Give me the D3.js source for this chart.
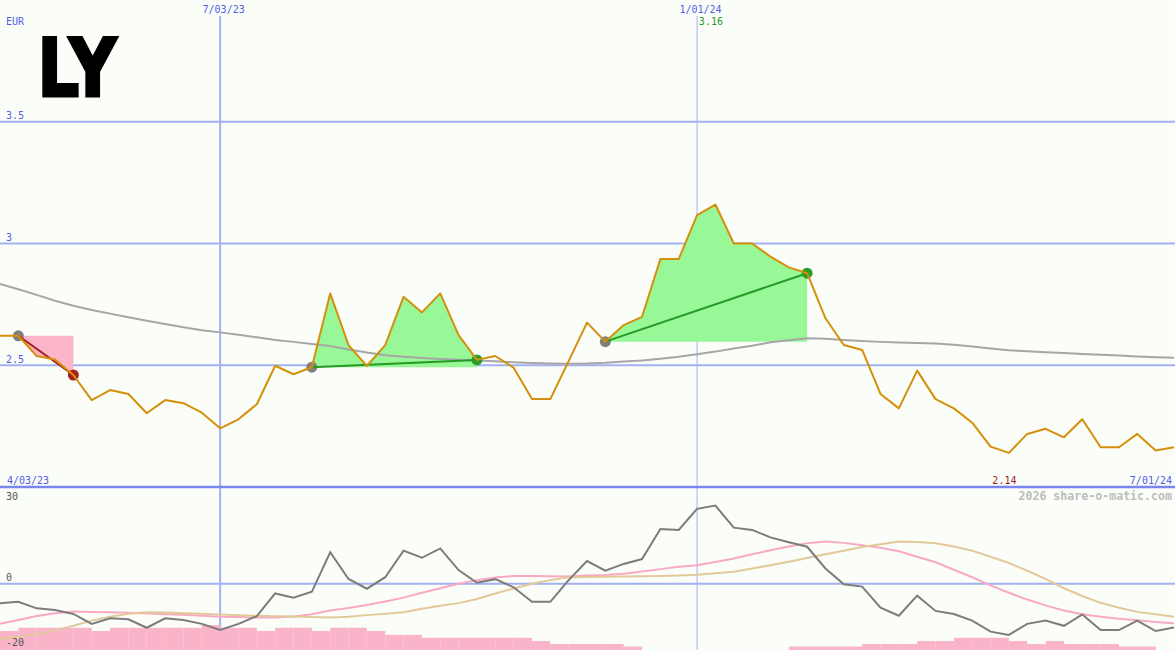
<!DOCTYPE html>
<html><head><meta charset="utf-8">
<script src="https://cdn.jsdelivr.net/npm/d3@7"></script>
<style>html,body{margin:0;padding:0;background:#fbfdf9;} svg{display:block;}</style>
</head><body>
<svg id="chart" width="1175" height="650"></svg>
<script>
// ---------- data ----------
const ticker = "LY";
const currency = "EUR";
const firstWeek = "2023-04-10";
const lastWeek = "2024-07-01";
const closePrices = [
  2.621, 2.621, 2.538, 2.524, 2.460, 2.357, 2.398, 2.382, 2.303, 2.357,
  2.344, 2.305, 2.241, 2.278, 2.340, 2.498, 2.463, 2.492, 2.795, 2.583,
  2.497, 2.583, 2.781, 2.717, 2.795, 2.624, 2.522, 2.538, 2.490, 2.361,
  2.361, 2.517, 2.675, 2.597, 2.665, 2.699, 2.936, 2.936, 3.117, 3.160,
  3.000, 3.000, 2.946, 2.902, 2.878, 2.693, 2.583, 2.563, 2.382, 2.323,
  2.478, 2.361, 2.323, 2.264, 2.166, 2.140, 2.218, 2.239, 2.204, 2.278,
  2.163, 2.163, 2.218, 2.150, 2.163
];
const movingAverage = [
  2.834, 2.812, 2.789, 2.765, 2.744, 2.727, 2.712, 2.697, 2.683, 2.669,
  2.656, 2.644, 2.635, 2.625, 2.615, 2.604, 2.596, 2.587, 2.579, 2.565,
  2.552, 2.541, 2.535, 2.530, 2.526, 2.523, 2.520, 2.516, 2.512, 2.509,
  2.507, 2.506, 2.507, 2.510, 2.515, 2.520, 2.527, 2.535, 2.545, 2.556,
  2.569, 2.580, 2.594, 2.603, 2.611, 2.609, 2.604, 2.600, 2.596, 2.593,
  2.591, 2.589, 2.584, 2.577, 2.569, 2.562, 2.557, 2.553, 2.550, 2.546,
  2.543, 2.540, 2.536, 2.533, 2.531
];
const momentum = [
  -6.05, -5.56, -7.6, -8.1, -9.35, -12.4, -10.7, -11.0, -13.6, -10.7,
  -11.2, -12.4, -14.3, -12.4, -10.0, -3.0, -4.3, -2.5, 9.7, 1.45,
  -1.55, 2.0, 10.2, 8.0, 10.9, 4.2, 0.3, 1.4, -1.1, -5.6,
  -5.6, 1.1, 7.0, 4.0, 6.1, 7.6, 16.9, 16.6, 23.1, 24.1,
  17.3, 16.6, 14.3, 12.8, 11.4, 4.7, -0.2, -0.9, -7.4, -9.9,
  -3.7, -8.4, -9.35, -11.4, -14.8, -15.8, -12.4, -11.4, -13.0, -9.5,
  -14.3, -14.3, -11.4, -14.6, -13.5
];
const signalPink = [
  -12.4, -11.2, -10.0, -9.1, -8.6, -8.7, -8.8, -9.0, -9.2, -9.4,
  -9.6, -9.9, -10.2, -10.3, -10.45, -10.4, -10.1, -9.4, -8.3, -7.5,
  -6.6, -5.5, -4.3, -2.8, -1.4, 0.0, 1.1, 1.9, 2.4, 2.4,
  2.3, 2.2, 2.5, 2.7, 3.1, 3.8, 4.5, 5.2, 5.7, 6.7,
  7.8, 9.1, 10.3, 11.5, 12.5, 13.0, 12.6, 11.9, 11.1, 10.0,
  8.3, 6.6, 4.3, 2.0, -0.5, -2.8, -4.9, -6.7, -8.3, -9.4,
  -10.2, -10.8, -11.3, -11.8, -12.2
];
const signalTan = [
  -17.1, -16.4, -15.6, -14.4, -13.0, -11.4, -10.2, -9.3, -8.8, -8.9,
  -9.1, -9.3, -9.5, -9.75, -9.9, -10.05, -10.15, -10.3, -10.45, -10.2,
  -9.7, -9.3, -8.8, -7.7, -6.8, -6.0, -4.7, -3.0, -1.5, 0.0,
  1.1, 2.0, 2.1, 2.15, 2.2, 2.3, 2.4, 2.5, 2.8, 3.2,
  3.7, 4.7, 5.7, 6.8, 7.9, 9.1, 10.2, 11.3, 12.2, 13.0,
  12.9, 12.5, 11.5, 10.2, 8.3, 6.4, 4.0, 1.5, -1.4, -3.8,
  -5.9, -7.4, -8.7, -9.4, -10.2
];
const histogram = [
  -14.6, -13.6, -13.6, -13.6, -13.6, -14.6, -13.6, -13.6, -13.6, -13.6,
  -13.6, -12.75, -13.6, -13.6, -14.6, -13.6, -13.6, -14.6, -13.6, -13.6,
  -14.6, -15.8, -15.8, -16.7, -16.7, -16.7, -16.7, -16.7, -16.7, -17.7,
  -18.6, -18.6, -18.6, -18.6, -19.4, null, null, null, null, null,
  null, null, null, -19.4, -19.4, -19.4, -19.4, -18.6, -18.6, -18.6,
  -17.7, -17.7, -16.7, -16.7, -16.7, -17.7, -18.6, -17.7, -18.6, -18.6,
  -18.6, -19.4, -19.4, null, null
];
const trades = [
  {open: "2023-04-17", close: "2023-05-08"},
  {open: "2023-08-07", close: "2023-10-09"},
  {open: "2023-11-27", close: "2024-02-12"}
];
const priceTicks = [3.5, 3, 2.5];
const lowerTicks = [30, 0, -20];
const dateTicks = ["2023-07-03", "2024-01-01"];
const dateTickLabels = ["7/03/23", "1/01/24"];
const rangeStartLabel = "4/03/23";
const rangeEndLabel = "7/01/24";
const copyright = "2026 share-o-matic.com";

// ---------- layout ----------
const W = 1175, H = 650;
const mainTop = 0, mainBottom = 487;
const font = "'DejaVu Sans Mono', monospace";
const C = {
  bg: "#fbfdf9", grid: "#a3b1f3", sep: "#7886ee", text: "#4f5fe6",
  price: "#d4900a", ma: "#a6a6a6", gain: "#98f898", loss: "#fbb4c8",
  gainLine: "#259a25", lossLine: "#a81c1c", gainDot: "#279e27", lossDot: "#a82020",
  openDot: "#808080", mom: "#7c7c7c", pink: "#f9a9c4", tan: "#e2c99a", bars: "#f9b4c9",
  hi: "#1f9a1f", lo: "#a01c1c", lowerText: "#555555", copy: "#bdbdbd"
};

const parse = d3.utcParse("%Y-%m-%d");
const weeks = d3.utcMonday.range(parse(firstWeek), d3.utcDay.offset(parse(lastWeek), 1));

const x = d3.scaleUtc().domain([weeks[0], weeks[weeks.length - 1]]).range([0, 1174]);
const y = d3.scaleLinear().domain([2, 4]).range([mainBottom, mainTop]);
const yL = d3.scaleLinear().domain([-20, 30]).range([648.5, 486.5]);

const svg = d3.select("#chart");
svg.append("rect").attr("width", W).attr("height", H).attr("fill", C.bg);

// horizontal grid (main)
svg.append("g").selectAll("line").data(priceTicks).join("line")
  .attr("x1", 0).attr("x2", W)
  .attr("y1", d => y(d)).attr("y2", d => y(d))
  .attr("stroke", C.grid).attr("stroke-width", 2);
// lower zero grid
svg.append("line").attr("x1", 0).attr("x2", W)
  .attr("y1", yL(0)).attr("y2", yL(0))
  .attr("stroke", C.grid).attr("stroke-width", 2);
// vertical grid
svg.append("g").selectAll("line").data(dateTicks).join("line")
  .attr("x1", d => x(parse(d))).attr("x2", d => x(parse(d)))
  .attr("y1", 16).attr("y2", H)
  .attr("stroke", C.grid).attr("stroke-width", (d, i) => i === 0 ? 2 : 1);

// trade fills
const idx = s => weeks.findIndex(w => +w === +parse(s));
trades.forEach(t => {
  const a = idx(t.open), b = idx(t.close);
  const base = closePrices[a];
  const gain = closePrices[b] >= base;
  const pts = d3.range(a, b + 1);
  const area = d3.area()
    .x(i => x(weeks[i]))
    .y0(y(base))
    .y1(i => y(gain ? Math.max(closePrices[i], base) : Math.min(closePrices[i], base)));
  svg.append("path").attr("d", area(pts)).attr("fill", gain ? C.gain : C.loss);
  t._a = a; t._b = b; t._gain = gain;
});

// moving average
const lineMain = d3.line().x((d, i) => x(weeks[i])).y(d => y(d));
svg.append("path").attr("d", lineMain(movingAverage))
  .attr("fill", "none").attr("stroke", C.ma).attr("stroke-width", 2);

// trade dots + lines
trades.forEach(t => {
  svg.append("circle").attr("cx", x(weeks[t._a])).attr("cy", y(closePrices[t._a]))
    .attr("r", 5.5).attr("fill", C.openDot);
  svg.append("circle").attr("cx", x(weeks[t._b])).attr("cy", y(closePrices[t._b]))
    .attr("r", 5.5).attr("fill", t._gain ? C.gainDot : C.lossDot);
  svg.append("line")
    .attr("x1", x(weeks[t._a])).attr("y1", y(closePrices[t._a]))
    .attr("x2", x(weeks[t._b])).attr("y2", y(closePrices[t._b]))
    .attr("stroke", t._gain ? C.gainLine : C.lossLine).attr("stroke-width", 2);
});

// price line
svg.append("path").attr("d", lineMain(closePrices))
  .attr("fill", "none").attr("stroke", C.price).attr("stroke-width", 2)
  .attr("stroke-linejoin", "round");

// lower panel bars
svg.append("g").selectAll("rect")
  .data(histogram.map((v, i) => ({v, i})).filter(d => d.v !== null && d.i < weeks.length - 1))
  .join("rect")
  .attr("x", d => x(weeks[d.i]))
  .attr("width", d => x(weeks[d.i + 1]) - x(weeks[d.i]))
  .attr("y", d => yL(d.v))
  .attr("height", d => H - yL(d.v))
  .attr("fill", C.bars);

const lineLow = d3.line().x((d, i) => x(weeks[i])).y(d => yL(d));
[[signalPink, C.pink], [signalTan, C.tan], [momentum, C.mom]].forEach(([s, c]) => {
  svg.append("path").attr("d", lineLow(s)).attr("fill", "none")
    .attr("stroke", c).attr("stroke-width", 2);
});

// separator
svg.append("line").attr("x1", 0).attr("x2", W).attr("y1", mainBottom).attr("y2", mainBottom)
  .attr("stroke", C.sep).attr("stroke-width", 2.5);

// ---------- text ----------
const txt = (s, xx, yy, opts = {}) => svg.append("text").text(s)
  .attr("x", xx).attr("y", yy)
  .attr("font-family", font).attr("font-size", opts.size || 10)
  .attr("font-weight", opts.weight || "normal")
  .attr("fill", opts.fill || C.text)
  .attr("text-anchor", opts.anchor || "start");

txt(currency, 6, 25);
priceTicks.forEach(v => txt(d3.format("~g")(v), 6, y(v) - 2.5));
dateTicks.forEach((d, i) => txt(dateTickLabels[i], x(parse(d)) + 3.5, 13, {anchor: "middle"}));
txt(rangeStartLabel, 7, 483.5);
txt(rangeEndLabel, 1172, 483.5, {anchor: "end"});

const hiI = d3.maxIndex(closePrices), loI = d3.minIndex(closePrices);
txt(closePrices[hiI].toFixed(2), x(weeks[hiI]) - 4.5, 25, {anchor: "middle", fill: C.hi});
txt(closePrices[loI].toFixed(2), x(weeks[loI]) - 4.5, 483.5, {anchor: "middle", fill: C.lo});

// lower labels (kept inside the panel)
lowerTicks.forEach(v => {
  let yy = yL(v) - 2.5;
  if (yy - 8 < mainBottom) yy = mainBottom + 12.5;
  txt(String(v), 6, yy, {fill: C.lowerText});
});

txt(copyright, 1172, 500, {anchor: "end", size: 11.6, weight: "bold", fill: C.copy});

// ticker logo
svg.append("text").text(ticker)
  .attr("x", 37.5).attr("y", 95.5)
  .attr("font-family", "'DejaVu Sans', sans-serif")
  .attr("font-weight", "bold").attr("font-size", 81)
  .attr("textLength", 79).attr("lengthAdjust", "spacingAndGlyphs")
  .attr("fill", "#000").attr("stroke", "#000").attr("stroke-width", 3)
  .attr("stroke-linejoin", "miter");
</script>
</body></html>
